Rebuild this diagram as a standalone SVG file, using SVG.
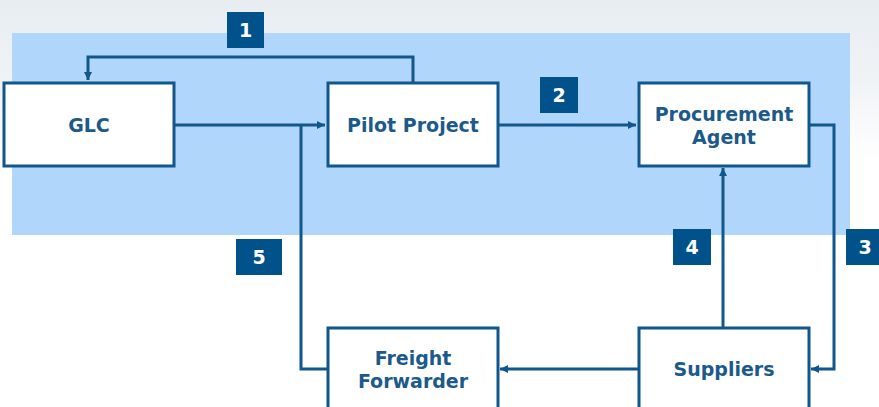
<svg xmlns="http://www.w3.org/2000/svg" width="879" height="407" viewBox="0 0 879 407">
<defs>
<linearGradient id="bg" x1="0" y1="0" x2="0" y2="1">
<stop offset="0" stop-color="#e8edf1"/>
<stop offset="0.2" stop-color="#f0f3f6"/>
<stop offset="0.4" stop-color="#ffffff"/>
</linearGradient>
<marker id="ah" markerWidth="10" markerHeight="10" refX="9" refY="5" orient="auto" markerUnits="userSpaceOnUse">
<path d="M1,1 L9,5 L1,9 Z" fill="#0f578c"/>
</marker>
<style>
.box{fill:#ffffff;stroke:#0f578c;stroke-width:3}
.lbl{font-family:"DejaVu Sans",sans-serif;font-weight:bold;font-size:19px;fill:#1c5a8b;text-anchor:middle}
.num{fill:#01528a}
.numt{font-family:"DejaVu Sans",sans-serif;font-weight:bold;font-size:19px;fill:#ffffff;text-anchor:middle}
.con{fill:none;stroke:#0f578c;stroke-width:3}
</style>
</defs>
<rect x="0" y="0" width="879" height="407" fill="url(#bg)"/>
<rect x="12" y="33" width="838" height="202" fill="#b0d6fb"/>
<g id="connectors">
<path class="con" d="M413,82 V57 H88 V80" marker-end="url(#ah)"/>
<path class="con" d="M174,125 H325" marker-end="url(#ah)"/>
<path class="con" d="M327,369 H301 V125"/>
<path class="con" d="M498,125 H636" marker-end="url(#ah)"/>
<path class="con" d="M809,125 H834 V369 H811" marker-end="url(#ah)"/>
<path class="con" d="M723,327 V168" marker-end="url(#ah)"/>
<path class="con" d="M638,369 H500" marker-end="url(#ah)"/>
</g>
<g id="n-glc">
<rect class="box" x="4" y="83" width="170" height="83"/>
<text class="lbl" x="89" y="132">GLC</text>
</g>
<g id="n-pilot">
<rect class="box" x="328" y="83" width="170" height="83"/>
<text class="lbl" x="413" y="132">Pilot Project</text>
</g>
<g id="n-procurement">
<rect class="box" x="639" y="83" width="170" height="83"/>
<text class="lbl" x="724" y="121">Procurement</text>
<text class="lbl" x="724" y="144">Agent</text>
</g>
<g id="n-freight">
<rect class="box" x="328" y="328" width="170" height="90"/>
<text class="lbl" x="413" y="365">Freight</text>
<text class="lbl" x="413" y="388">Forwarder</text>
</g>
<g id="n-suppliers">
<rect class="box" x="639" y="328" width="170" height="90"/>
<text class="lbl" x="724" y="376">Suppliers</text>
</g>
<g id="labels">
<rect class="num" x="227" y="12" width="37" height="36"/>
<text class="numt" x="245.5" y="37">1</text>
<rect class="num" x="540" y="77" width="38" height="36"/>
<text class="numt" x="559" y="102">2</text>
<rect class="num" x="846" y="229" width="38" height="36"/>
<text class="numt" x="865" y="254">3</text>
<rect class="num" x="673" y="229" width="38" height="36"/>
<text class="numt" x="692" y="254">4</text>
<rect class="num" x="236" y="239" width="46" height="36"/>
<text class="numt" x="259" y="264">5</text>
</g>
</svg>
